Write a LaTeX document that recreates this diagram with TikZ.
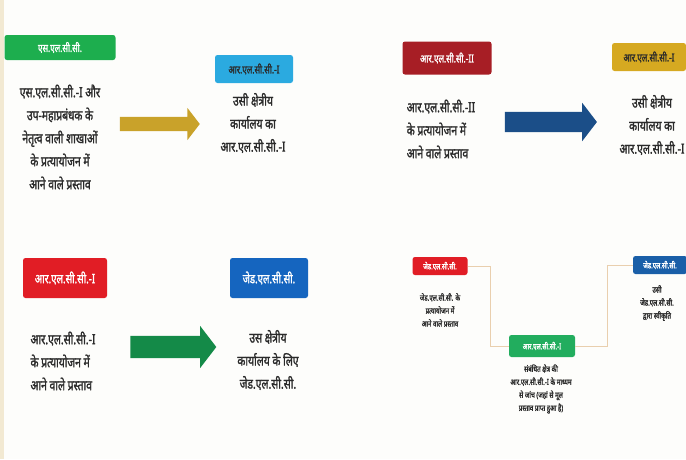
\documentclass[tikz,border=0pt]{standalone}
\usepackage{fontspec}
\newfontfamily\hin[Script=Devanagari,FakeStretch=0.74,FakeBold=1.6]{Noto Sans}
\usetikzlibrary{shapes.arrows}
\definecolor{bgc}{HTML}{FDFDFB}
\definecolor{strip}{HTML}{F2E9D2}
\definecolor{cgreen}{HTML}{1DAE4E}
\definecolor{clblue}{HTML}{2BAAE0}
\definecolor{cdred}{HTML}{A71E25}
\definecolor{cyell}{HTML}{D6A921}
\definecolor{cred}{HTML}{E11D25}
\definecolor{cblue}{HTML}{1565BF}
\definecolor{cgold}{HTML}{C9A22A}
\definecolor{cnavy}{HTML}{1B4E88}
\definecolor{cdgreen}{HTML}{148A48}
\definecolor{cmgreen}{HTML}{22AD5E}
\definecolor{csblue}{HTML}{1A5FA8}
\definecolor{txt}{HTML}{2A2A2A}
\definecolor{conn}{HTML}{E9CFAE}
\tikzset{
  lab/.style={rectangle, rounded corners=2.5pt, inner sep=0pt, text=white, font=\hin\fontsize{11}{12}\selectfont},
  body/.style={align=center, text=txt, font=\hin\fontsize{14}{23}\selectfont, inner sep=0pt},
  sbody/.style={align=center, text=txt, font=\hin\fontsize{8.3}{13}\selectfont, inner sep=0pt},
  slab/.style={lab, font=\hin\fontsize{8.3}{9}\selectfont},
  blk/.style={single arrow, draw=none, inner xsep=0pt, inner ysep=7pt, minimum width=0pt, single arrow head extend=9pt, single arrow tip angle=105, single arrow head indent=0pt},
  cn/.style={draw=conn, line width=0.9pt}
}
\begin{document}
\begin{tikzpicture}[x=1pt,y=-1pt]
\fill[bgc] (0,0) rectangle (686,459);
\fill[strip] (0,0) rectangle (4,459);
\useasboundingbox (0,0) rectangle (686,459);
% top left
\node[lab, fill=cgreen, minimum width=111pt, minimum height=25pt] (l1) at (60,47.5) {एस.एल.सी.सी.};
\node[body] (b1) at (60,137) {एस.एल.सी.सी.-I और\\उप-महाप्रबंधक के\\नेतृत्व वाली शाखाओं\\के प्रत्यायोजन में\\आने वाले प्रस्ताव};
\node[blk, fill=cgold, minimum height=80pt] (a1) at (157,124) {};
\node[lab, fill=clblue, text=txt, minimum width=78pt, minimum height=28pt] (l2) at (254,69) {आर.एल.सी.सी.-I};
\node[body] (b2) at (253,123) {उसी क्षेत्रीय\\कार्यालय का\\आर.एल.सी.सी.-I};
% top right
\node[lab, fill=cdred, minimum width=89pt, minimum height=33pt] (l3) at (447,58) {आर.एल.सी.सी.-II};
\node[body, align=left] (b3) at (441,129) {आर.एल.सी.सी.-II\\के प्रत्यायोजन में\\आने वाले प्रस्ताव};
\node[blk, fill=cnavy, inner ysep=10pt, minimum height=92pt] (a2) at (547,122) {};
\node[lab, fill=cyell, text=txt, minimum width=74pt, minimum height=28pt] (l4) at (649,57) {आर.एल.सी.सी.-I};
\node[body] (b4) at (652,125) {उसी क्षेत्रीय\\कार्यालय का\\आर.एल.सी.सी.-I};
% bottom left
\node[lab, fill=cred, minimum width=84pt, minimum height=40pt, font=\hin\fontsize{13}{14}\selectfont] (l5) at (65,278) {आर.एल.सी.सी.-I};
\node[body, align=left] (b5) at (63,361) {आर.एल.सी.सी.-I\\के प्रत्यायोजन में\\आने वाले प्रस्ताव};
\node[blk, fill=cdgreen, inner ysep=11pt, single arrow head extend=10pt, minimum height=86pt] (a3) at (169,347) {};
\node[lab, fill=cblue, minimum width=78pt, minimum height=40pt, font=\hin\fontsize{13}{14}\selectfont] (l6) at (269,278) {जेड.एल.सी.सी.};
\node[body] (b6) at (268,360) {उस क्षेत्रीय\\कार्यालय के लिए\\जेड.एल.सी.सी.};
% bottom right
\node[slab, fill=cred, minimum width=55pt, minimum height=18pt] (l7) at (440,266) {जेड.एल.सी.सी.};
\node[sbody] (b7) at (440,310) {जेड.एल.सी.सी. के\\प्रत्यायोजन में\\आने वाले प्रस्ताव};
\node[slab, fill=cmgreen, minimum width=66pt, minimum height=22pt] (l8) at (542,346) {आर.एल.सी.सी.-I};
\node[sbody] (b8) at (541,389) {संबंधित क्षेत्र की\\आर.एल.सी.सी.-I के माध्यम\\से जांच (जहां से मूल\\प्रस्ताव प्राप्त हुआ है)};
\node[slab, fill=csblue, minimum width=54pt, minimum height=18pt] (l9) at (660,265) {जेड.एल.सी.सी.};
\node[sbody] (b9) at (657,303) {उसी\\जेड.एल.सी.सी.\\द्वारा स्वीकृति};
\coordinate (c1) at (490,266);
\coordinate (c2) at (607,265);
\draw[cn] (l7.east) -- (c1) |- (l8.west);
\draw[cn] (l8.east) -| (c2) -- (l9.west);
\end{tikzpicture}
\end{document}
